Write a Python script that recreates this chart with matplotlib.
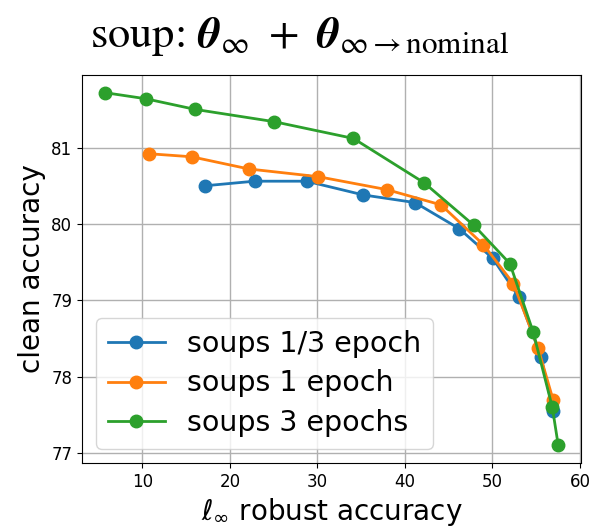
import matplotlib
matplotlib.use("Agg")
import matplotlib.pyplot as plt

# Data
blue_x = [17.16, 22.82, 28.76, 35.26, 41.16, 46.19, 50.03, 53.04, 55.55, 56.95]
blue_y = [80.50, 80.56, 80.56, 80.38, 80.28, 79.94, 79.55, 79.04, 78.26, 77.55]

orange_x = [10.72, 15.63, 22.18, 30.06, 37.93, 44.13, 48.96, 52.39, 55.20, 56.95]
orange_y = [80.92, 80.88, 80.72, 80.62, 80.45, 80.25, 79.73, 79.22, 78.38, 77.69]

green_x = [5.70, 10.38, 16.05, 25.03, 34.12, 42.19, 47.90, 52.00, 54.67, 56.84, 57.52]
green_y = [81.72, 81.64, 81.50, 81.34, 81.12, 80.54, 79.98, 79.48, 78.58, 77.60, 77.10]

labels = ["soups 1/3 epoch", "soups 1 epoch", "soups 3 epochs"]
colors = ["#1f77b4", "#ff7f0e", "#2ca02c"]

fig = plt.figure(figsize=(5.94, 5.28), dpi=100)
ax = fig.add_axes([0.138, 0.123, 0.840, 0.735])

for xs, ys, lab, c in zip([blue_x, orange_x, green_x], [blue_y, orange_y, green_y], labels, colors):
    ax.plot(xs, ys, marker='o', markersize=9, linewidth=2, color=c, label=lab)

ax.grid(True, color='#b0b0b0', linewidth=1)
ax.set_xticks([10, 20, 30, 40, 50, 60])
ax.set_yticks([77, 78, 79, 80, 81])
ax.tick_params(labelsize=12)
ax.set_xlabel(r'$\ell_\infty$ robust accuracy', fontsize=20, math_fontfamily='dejavusans')
ax.set_ylabel('clean accuracy', fontsize=20)
ax.legend(loc='lower left', fontsize=20.5, labelspacing=0.42)

fig.text(0.505, 0.93,
         r'soup: $\boldsymbol{\theta}_\infty\ +\ \boldsymbol{\theta}_{\infty\rightarrow\mathrm{nominal}}$',
         ha='center', va='center', fontsize=32, family='STIXGeneral', math_fontfamily='stix')

fig.savefig('out.png', dpi=100)
